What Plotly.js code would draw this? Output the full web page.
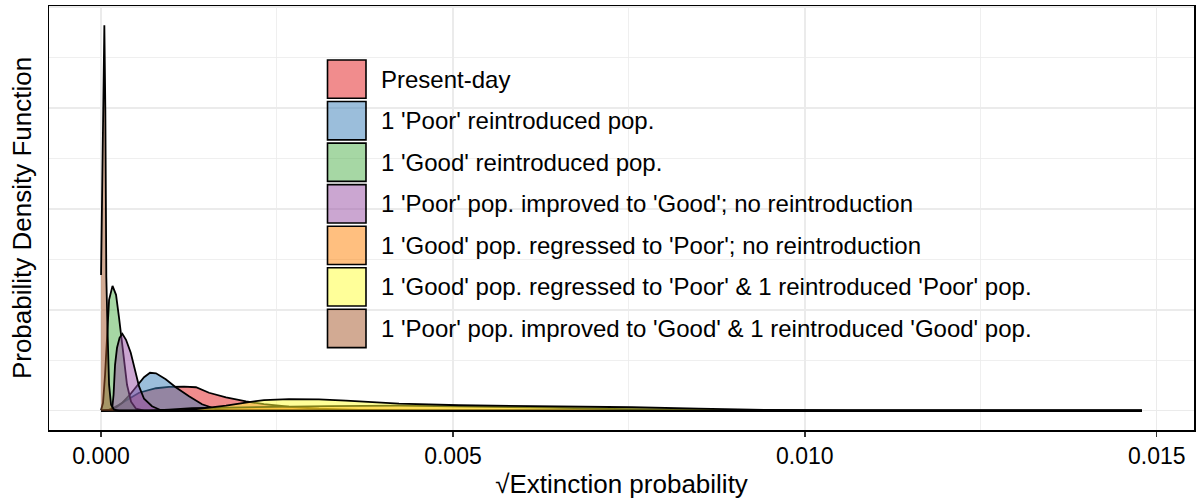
<!DOCTYPE html>
<html>
<head>
<meta charset="utf-8">
<script src="https://cdn.plot.ly/plotly-3.0.1.min.js"></script>
<style>
  html, body { margin: 0; padding: 0; background: #ffffff; }
  #chart { width: 1199px; height: 499px; }
</style>
</head>
<body>
<div id="chart"></div>
<script>
// Scenario labels (legend order = drawing order)
const scenarios = [
  "Present-day",
  "1 'Poor' reintroduced pop.",
  "1 'Good' reintroduced pop.",
  "1 'Poor' pop. improved to 'Good'; no reintroduction",
  "1 'Good' pop. regressed to 'Poor'; no reintroduction",
  "1 'Good' pop. regressed to 'Poor' & 1 reintroduced 'Poor' pop.",
  "1 'Poor' pop. improved to 'Good' & 1 reintroduced 'Good' pop."
];

// Set1 palette, drawn at half opacity
const scenarioColors = ["#E41A1C", "#377EB8", "#4DAF4A", "#984EA3", "#FF7F00", "#FFFF33", "#A65628"];

// Common upper end of the density grid (largest simulated value)
const xMax = 0.01479;

// Kernel density estimates of sqrt(extinction probability), one pair of arrays per scenario
const presentX = [0, 0.000114, 0.000256, 0.000398, 0.00054, 0.000781, 0.000966, 0.001179, 0.001349, 0.001534, 0.001776, 0.00206, 0.002315, 0.00267, 0.003097, 0.003665, 0.004517, xMax];
const presentY = [0, 25, 297, 594, 891, 1114, 1178, 1198, 1163, 891, 658, 460, 322, 198, 99, 35, 0, 0];

const poorReintroX = [0, 0.000114, 0.000209, 0.000303, 0.000398, 0.00054, 0.000611, 0.000696, 0.000781, 0.000919, 0.001061, 0.00125, 0.001435, 0.001634, 0.001818, 0.002102, xMax];
const poorReintroY = [0, 50, 149, 396, 743, 1386, 1658, 1881, 1856, 1559, 1163, 718, 322, 84, 10, 0, 0];

const goodReintroX = [0, 0.000028, 0.000057, 0.000085, 0.000114, 0.000163, 0.000213, 0.000256, 0.000284, 0.000327, 0.000369, 0.000426, 0.000497, 0.000611, xMax];
const goodReintroY = [25, 396, 1782, 4010, 5495, 6188, 5742, 4604, 3861, 2525, 1287, 446, 99, 0, 0];

const poorImprovedX = [0, 0.000156, 0.000178, 0.000199, 0.000227, 0.000263, 0.000303, 0.000355, 0.000422, 0.000493, 0.00054, 0.000611, 0.000724, 0.000852, 0.001037, xMax];
const poorImprovedY = [0, 25, 792, 2277, 3119, 3614, 3812, 3515, 2871, 1832, 1203, 594, 223, 25, 0, 0];

const goodRegressedX = [0, 0.000682, 0.000966, 0.001293, 0.001818, 0.002386, 0.003239, 0.004233, 0.005085, 0.005653, 0.006364, 0.007457, 0.008494, 0.009389, 0.009915, xMax];
const goodRegressedY = [0, 0, 50, 124, 158, 188, 228, 248, 223, 183, 149, 84, 50, 25, 0, 0];

const regressedPlusPoorX = [0, 0.000966, 0.001293, 0.001534, 0.001776, 0.002102, 0.002315, 0.00267, 0.003097, 0.00348, 0.003849, 0.004233, 0.005085, 0.006364, 0.007543, 0.008494, 0.009446, 0.010625, 0.011335, xMax];
const regressedPlusPoorY = [0, 0, 50, 149, 248, 431, 530, 574, 559, 505, 446, 356, 272, 233, 173, 109, 40, 10, 0, 0];

const improvedPlusGoodX = [0, 0.000021, 0.000047, 0.000061, 0.000075, 0.000092, 0.000114, 0.000142, 0.000185, 0.000256, 0.0005, xMax];
const improvedPlusGoodY = [6730, 12900, 19100, 14900, 6630, 4010, 1290, 300, 50, 0, 0, 0];

const seriesX = [presentX, poorReintroX, goodReintroX, poorImprovedX, goodRegressedX, regressedPlusPoorX, improvedPlusGoodX];
const seriesY = [presentY, poorReintroY, goodReintroY, poorImprovedY, goodRegressedY, regressedPlusPoorY, improvedPlusGoodY];

// Axis text
const xTitle = "\u221AExtinction probability";
const yTitle = "Probability Density Function";

function withAlpha(hex, a) {
  const r = parseInt(hex.slice(1, 3), 16);
  const g = parseInt(hex.slice(3, 5), 16);
  const b = parseInt(hex.slice(5, 7), 16);
  return `rgba(${r},${g},${b},${a})`;
}

const traces = scenarios.map((name, i) => ({
  type: "scatter",
  mode: "lines",
  name: name,
  x: seriesX[i],
  y: seriesY[i],
  fill: "tozeroy",
  fillcolor: withAlpha(scenarioColors[i], 0.5),
  line: { color: "#000000", width: 1.8 },
  hoverinfo: "x+y+name",
  showlegend: false
}));

// 5% padding on both axes around the data extent
const allX = seriesX.flat();
const allY = seriesY.flat();
const x0 = Math.min(...allX), x1 = Math.max(...allX);
const y0 = 0, y1 = Math.max(...allY);
const xPad = 0.05 * (x1 - x0), yPad = 0.05 * (y1 - y0);

const fontFamily = "Liberation Sans, Arial, sans-serif";
const plotLeft = 49, plotRight = 1194, plotTop = 6, plotBottom = 430;
const plotW = plotRight - plotLeft, plotH = plotBottom - plotTop;
const px2paperX = p => (p - plotLeft) / plotW;
const px2paperY = p => (plotBottom - p) / plotH;

// Legend drawn as keyed boxes inside the panel
const keyLeft = 327.5, keyRight = 366, keyTop = 60, keyPitch = 41.55, keyH = 38.3, textLeft = 378.5;
const shapes = [];
const annotations = [];
scenarios.forEach((name, i) => {
  const top = keyTop + i * keyPitch;
  shapes.push({
    type: "rect", xref: "paper", yref: "paper",
    x0: px2paperX(keyLeft), x1: px2paperX(keyRight),
    y0: px2paperY(top + keyH), y1: px2paperY(top),
    fillcolor: withAlpha(scenarioColors[i], 0.5),
    line: { color: "#000000", width: 1.6 }
  });
  annotations.push({
    xref: "paper", yref: "paper",
    x: px2paperX(textLeft), y: px2paperY(top + keyH / 2),
    xanchor: "left", yanchor: "middle",
    text: name, showarrow: false,
    font: { family: fontFamily, size: 24, color: "#000000" }
  });
});

const gridMajor = "#ebebeb";
const layout = {
  width: 1199, height: 499,
  margin: { l: plotLeft, r: 1199 - plotRight, t: plotTop, b: 499 - plotBottom },
  paper_bgcolor: "#ffffff", plot_bgcolor: "#ffffff",
  showlegend: false,
  xaxis: {
    range: [x0 - xPad, x1 + xPad],
    tick0: 0, dtick: 0.005, tickformat: ".3f",
    ticks: "outside", ticklen: 5, tickwidth: 1.5, tickcolor: "#333333",
    tickfont: { family: fontFamily, size: 23, color: "#000000" },
    showline: true, linecolor: "#000000", linewidth: 1.5, mirror: true,
    showgrid: true, gridcolor: gridMajor, gridwidth: 1.4,
    minor: { dtick: 0.0025, showgrid: true, gridcolor: gridMajor, gridwidth: 0.8, ticks: "" },
    zeroline: false, automargin: false,
    title: { text: xTitle, font: { family: fontFamily, size: 26, color: "#000000" }, standoff: 8 }
  },
  yaxis: {
    range: [y0 - yPad, y1 + yPad],
    tick0: 0, dtick: 5000,
    showticklabels: false, ticks: "",
    showline: true, linecolor: "#000000", linewidth: 1.5, mirror: true,
    showgrid: true, gridcolor: gridMajor, gridwidth: 1.4,
    minor: { dtick: 2500, showgrid: true, gridcolor: gridMajor, gridwidth: 0.8, ticks: "" },
    zeroline: false, automargin: false,
    title: { text: yTitle, font: { family: fontFamily, size: 26, color: "#000000" }, standoff: 8 }
  },
  shapes: shapes,
  annotations: annotations
};

Plotly.newPlot("chart", traces, layout, { displayModeBar: false, staticPlot: true });
</script>
</body>
</html>
